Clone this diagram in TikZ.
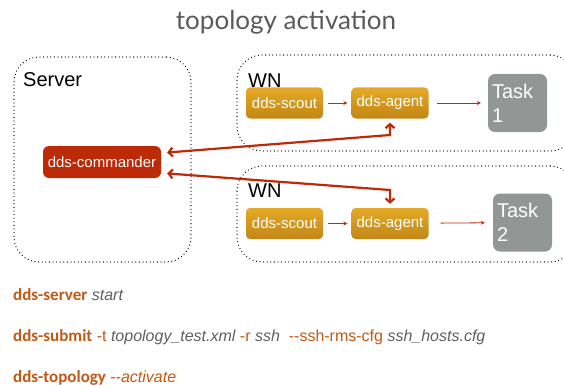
\documentclass[tikz,border=0pt]{standalone}
\usepackage{fontspec}
\setmainfont{Liberation Sans}
\newfontfamily\cmdfont{Carlito}
\newfontfamily\titlefont{Lato}
\usetikzlibrary{arrows, arrows.meta}
\definecolor{ddsred}{RGB}{188,42,8}
\definecolor{ddsorangetop}{RGB}{228,170,38}
\definecolor{ddsorangebot}{RGB}{194,134,22}
\definecolor{taskgray}{RGB}{146,150,148}
\definecolor{cmdorange}{RGB}{192,88,22}
\definecolor{argray}{RGB}{95,95,95}
\definecolor{titlegray}{RGB}{90,90,90}
\newcommand{\ddscmd}[1]{{\cmdfont\bfseries\fontsize{17}{20}\selectfont\color{cmdorange}#1}}
\newcommand{\ddsopt}[1]{{\color{cmdorange}#1}}
\newcommand{\ddsarg}[1]{{\color{argray}\itshape #1}}
\tikzstyle{host} = [rectangle, draw=black, line width=1.3pt, dash pattern=on 0pt off 3.6pt, line cap=round, rounded corners=25pt]
\tikzstyle{daemon} = [rectangle, rounded corners=4pt, minimum width=77pt, minimum height=31pt, inner sep=0pt, text=white, top color=ddsorangetop, bottom color=ddsorangebot, font=\fontsize{15}{18}\selectfont]
\tikzstyle{commander} = [rectangle, rounded corners=6pt, minimum width=118pt, minimum height=32pt, inner sep=0pt, text=white, fill=ddsred, font=\fontsize{15}{18}\selectfont]
\tikzstyle{task} = [rectangle, rounded corners=7pt, minimum width=59pt, minimum height=58pt, text width=51pt, inner xsep=4pt, inner ysep=0pt, align=left, text=white, fill=taskgray, font=\fontsize{20}{24}\selectfont]
\tikzstyle{hostlabel} = [anchor=west, inner sep=0pt, font=\fontsize{20}{24}\selectfont]
\tikzstyle{cmdline} = [anchor=base west, inner sep=0pt, font=\fontsize{16}{19}\selectfont]
\tikzstyle{link} = [ddsred, line width=0.8pt, -{Stealth[length=4pt,width=4pt]}]
\tikzstyle{control} = [ddsred, line width=2.2pt, {Straight Barb[length=4pt,width=9pt]}-{Straight Barb[length=4pt,width=9pt]}]

\begin{document}
\begin{tikzpicture}[x=1pt, y=-1pt]
           \clip (0,0) rectangle (564,385);
           \node (title) [anchor=base, font=\titlefont\fontsize{26}{30}\selectfont, text=titlegray] at (286,30) {topology activation};

           % hosts
           \node (server) [host, minimum width=177pt, minimum height=205pt] at (102.5,159.5) {};
           \node (wnA) [host, minimum width=338pt, minimum height=96pt] at (406,103) {};
           \node (wnB) [host, minimum width=338pt, minimum height=96pt] at (406,214) {};
           \node (serverlabel) [hostlabel] at (23,80) {Server};
           \node (wnAlabel) [hostlabel] at (248,81) {WN};
           \node (wnBlabel) [hostlabel] at (248,191) {WN};

           % daemons
           \node (commander) [commander] at (102,162) {dds-commander};
           \node (scoutA) [daemon] at (284.5,103) {dds-scout};
           \node (agentA) [daemon] at (390,103) {dds-agent};
           \node (taskA) [task] at (517.5,103) {Task\\1};
           \node (scoutB) [daemon] at (284.5,223.5) {dds-scout};
           \node (agentB) [daemon] at (390,223.5) {dds-agent};
           \node (taskB) [task] at (522.5,222.5) {Task\\2};
           \coordinate (bendA) at (390,135);
           \coordinate (bendB) at (390,190);

           \draw [link, shorten <=5pt, shorten >=4pt] (scoutA) -- (agentA);
           \draw [link, shorten <=8pt, shorten >=7pt] (agentA) -- (taskA);
           \draw [link, shorten <=5pt, shorten >=4pt] (scoutB) -- (agentB);
           \draw [link, shorten <=12pt, shorten >=8pt] (agentB) -- (taskB);
           \draw [control, shorten <=6pt, shorten >=4pt] ([yshift=9pt]commander.east) -- (bendA) -- (agentA.south);
           \draw [control, shorten <=6pt, shorten >=4pt] ([yshift=-11pt]commander.east) -- (bendB) -- (agentB.north);

           % commands
           \node (srvcmd) [cmdline] at (13,300) {\ddscmd{dds-server} \ddsarg{start}};
           \node (subcmd) [cmdline] at (13,341) {\ddscmd{dds-submit} \ddsopt{-t} \ddsarg{topology\_test.xml} \ddsopt{-r} \ddsarg{ssh}\ \ \ddsopt{-{}-ssh-rms-cfg} \ddsarg{ssh\_hosts.cfg}};
           \node (topocmd) [cmdline] at (13,382) {\ddscmd{dds-topology} \ddsopt{-{}-{\itshape activate}}};
        \end{tikzpicture}
\end{document}
